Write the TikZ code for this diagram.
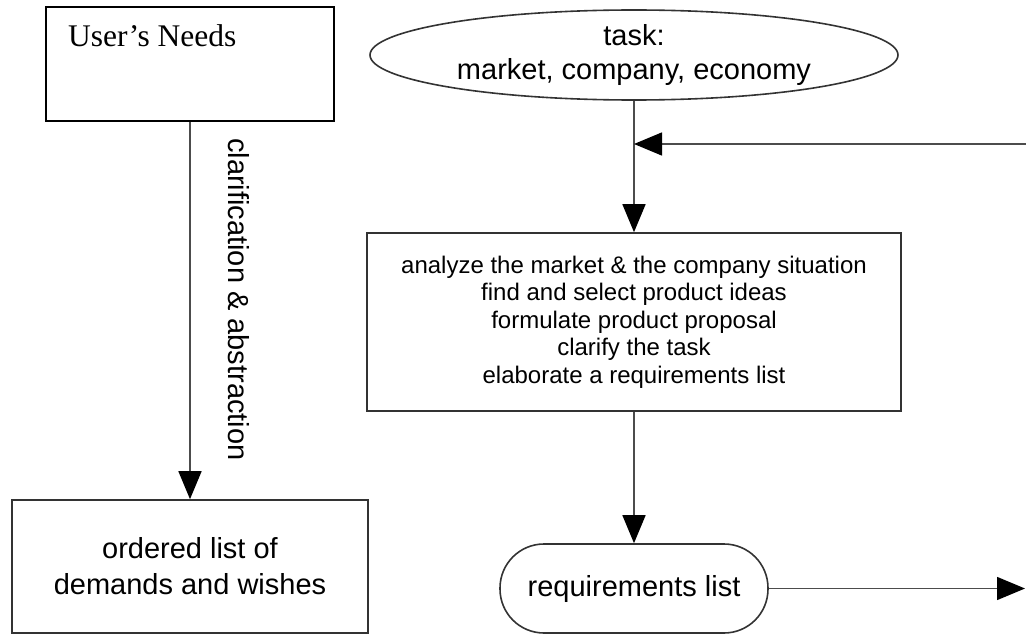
\documentclass[tikz,border=0pt]{standalone}
\usepackage{fontspec}
\setmainfont{Liberation Serif}
\setsansfont{Liberation Sans}
\usetikzlibrary{arrows.meta,shapes.geometric,calc}

\begin{document}
\begin{tikzpicture}[x=1pt,y=-1pt,
  sanstext/.style={font=\sffamily\fontsize{29}{34}\selectfont, align=center},
  boxline/.style={draw=black!80, line width=1.6pt},
  flow/.style={draw=black!70, line width=1.5pt, -{Triangle[length=28pt,width=23pt,black]}},
]
\useasboundingbox (0,0) rectangle (1026,634);

% left column: user's needs and the ordered list
\node[draw=black, line width=2.2pt, minimum width=288pt, minimum height=114pt, inner sep=0] (needs) at (190,64) {};
\node[anchor=base west, font=\fontsize{31.5}{34}\selectfont, inner sep=0] (needslabel) at (68,47) {User’s Needs};
\node[boxline, sanstext, font=\sffamily\fontsize{29}{36}\selectfont, minimum width=356pt, minimum height=133pt] (list) at (190,566.5) {ordered list of\\demands and wishes};
\draw[flow] (needs) -- (list);
\node[sanstext, rotate=-90, anchor=south, inner sep=0] (clarify) at ($(needs.south)!0.47!(list.north)+(38,0)$) {clarification \& abstraction};

% right column: task, working steps and the requirements list
\node[boxline, ellipse, sanstext, minimum width=528pt, minimum height=90pt, inner sep=0] (task) at (634,55) {task:\\market, company, economy};
\node[boxline, font=\sffamily\fontsize{24}{27.5}\selectfont, align=center, minimum width=534pt, minimum height=178pt] (proc) at (634,322)
  {analyze the market \& the company situation\\find and select product ideas\\formulate product proposal\\clarify the task\\elaborate a requirements list};
\node[boxline, rounded corners=44pt, sanstext, minimum width=268pt, minimum height=89pt] (req) at (634,588.5) {requirements list};

\draw[flow] (task) -- (proc);
\draw[flow] (proc) -- (req);

% feedback from the right and output to the right
\coordinate (fbin) at (1026,144);
\coordinate (fbjoin) at (task.south |- fbin);
\draw[flow] (fbin) -- (fbjoin);
\coordinate (out) at (1025,588.5);
\draw[flow] (req) -- (out);
\end{tikzpicture}
\end{document}
